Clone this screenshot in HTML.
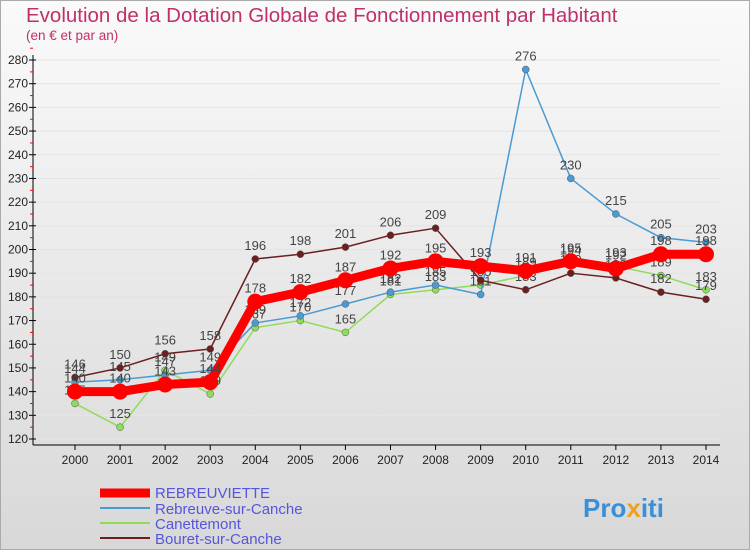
<!DOCTYPE html>
<html><head><meta charset="utf-8"><style>
body{margin:0;width:750px;height:550px;overflow:hidden;font-family:"Liberation Sans",sans-serif}
</style></head><body>
<svg id="c" width="750" height="550">
<defs><linearGradient id="bg" x1="0" y1="0" x2="0" y2="1"><stop offset="0" stop-color="#fafafa"/><stop offset="1" stop-color="#d8d8d8"/></linearGradient></defs>
<rect x="0.5" y="0.5" width="749" height="549" fill="url(#bg)" stroke="#aaa"/>
<text x="26" y="22" font-size="20.5" fill="#c0306a">Evolution de la Dotation Globale de Fonctionnement par Habitant</text>
<text x="26" y="40" font-size="13.5" fill="#c0306a">(en € et par an)</text>
<g id="axes"></g><g id="series"></g>
<g>
<line x1="100" y1="493" x2="150" y2="493" stroke="#f00" stroke-width="9"/>
<text x="155" y="498" font-size="15" fill="#5555dd">REBREUVIETTE</text>
<line x1="100" y1="508" x2="150" y2="508" stroke="#4a9ad4" stroke-width="2"/>
<text x="155" y="514" font-size="15" fill="#5555dd">Rebreuve-sur-Canche</text>
<line x1="100" y1="523" x2="150" y2="523" stroke="#8fdc5a" stroke-width="2"/>
<text x="155" y="529" font-size="15" fill="#5555dd">Canettemont</text>
<line x1="100" y1="538" x2="150" y2="538" stroke="#6b1f1f" stroke-width="2"/>
<text x="155" y="544" font-size="15" fill="#5555dd">Bouret-sur-Canche</text>
</g>
<text x="583" y="517" font-size="26" font-weight="bold" fill="#3a8fd8">Pro<tspan fill="#f0a020">x</tspan>iti</text>
</svg>
<script>
const years=[2000,2001,2002,2003,2004,2005,2006,2007,2008,2009,2010,2011,2012,2013,2014];
const rebreuviette=[140,140,143,144,178,182,187,192,195,193,191,195,192,198,198];
const rebreuve=[144,145,147,149,169,172,177,182,185,181,276,230,215,205,203];
const canettemont=[135,125,149,139,167,170,165,181,183,185,189,194,193,189,183];
const bouret=[146,150,156,158,196,198,201,206,209,187,183,190,188,182,179];
const yTicks=[120,130,140,150,160,170,180,190,200,210,220,230,240,250,260,270,280];
const NS="http://www.w3.org/2000/svg";
const x=i=>75+i*(706-75)/(years.length-1);
const y=v=>439-(v-120)*(439-60)/160;
function mk(t,a,p){const e=document.createElementNS(NS,t);for(const k in a)e.setAttribute(k,a[k]);p.appendChild(e);return e;}
const ax=document.getElementById('axes');
const axl=mk('line',{x1:33,y1:55,x2:33,y2:445,stroke:'#000'},ax);


const bl=mk('line',{x1:33,y1:445,x2:720,y2:445,stroke:'#000'},ax);


yTicks.forEach(v=>{
 mk('line',{x1:33,y1:y(v),x2:720,y2:y(v),stroke:'#e4e4e4'},ax);
 mk('line',{x1:29,y1:y(v),x2:36,y2:y(v),stroke:'#000'},ax);
 mk('line',{x1:30,y1:y(v)-11.8,x2:33,y2:y(v)-11.8,stroke:'#f00'},ax);
 const t=mk('text',{x:28,y:y(v)+4,'font-size':12,'text-anchor':'end',fill:'#222'},ax);
 t.textContent=v;
 
 
});
years.forEach((yr,i)=>{
 mk('line',{x1:x(i),y1:445,x2:x(i),y2:450,stroke:'#000'},ax);
 const t=mk('text',{x:x(i),y:464,'font-size':12,'text-anchor':'middle',fill:'#222'},ax);
 t.textContent=yr;
 
 
});
const sg=document.getElementById('series');
function draw(vals,col,w,r,name){
 const g=mk('g',{},sg);
 
 
 mk('polyline',{points:vals.map((v,i)=>x(i)+','+y(v)).join(' '),fill:'none',stroke:col,'stroke-width':w,'stroke-linejoin':'round'},g);
 vals.forEach((v,i)=>{
  const c=mk('circle',{cx:x(i),cy:y(v),r:r,fill:col,stroke:r>5?'none':'#555','stroke-width':0.5},g);
  
  
  const t=mk('text',{x:x(i),y:y(v)-9,'font-size':13,'text-anchor':'middle',fill:'#444'},g);
  t.textContent=v;
  
  
 });
}
draw(canettemont,'#8fdc5a',1.5,3.5,'series-canettemont');
draw(rebreuve,'#4a9ad4',1.5,3.5,'series-rebreuve');
draw(bouret,'#6b1f1f',1.5,3.5,'series-bouret');
draw(rebreuviette,'#f00',9,8,'series-rebreuviette');
</script>
</body></html>
